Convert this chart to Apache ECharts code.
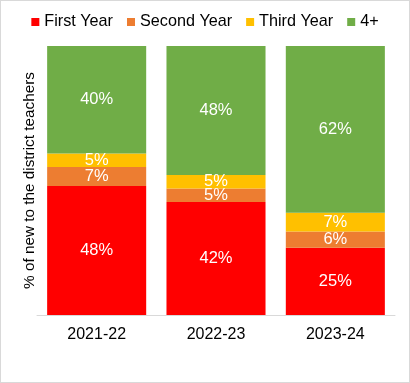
<!DOCTYPE html>
<html><head><meta charset="utf-8">
<script src="https://cdn.jsdelivr.net/npm/echarts@6/dist/echarts.min.js"></script>
<style>
html,body{margin:0;padding:0;background:#fff;}
#c{width:408px;height:381px;border:1px solid #d9d9d9;}
</style></head>
<body><div id="c"></div>
<script>
const categories = ['2021-22', '2022-23', '2023-24'];
const firstYear = [48, 42, 25];
const secondYear = [7, 5, 6];
const thirdYear = [5, 5, 7];
const fourPlus = [40, 48, 62];
const seriesNames = ['First Year', 'Second Year', 'Third Year', '4+'];
const colors = ['#ff0000', '#ed7d31', '#ffc000', '#70ad47'];

const chart = echarts.init(document.getElementById('c'));
const font = 'Liberation Sans, Arial, sans-serif';
function mk(name, data, color) {
  return {
    name: name, type: 'bar', stack: 'total', data: data,
    barCategoryGap: '17%',
    itemStyle: {color: color},
    label: {show: true, position: 'inside', color: '#fff', fontSize: 16.5, fontFamily: font,
      formatter: p => p.value + '%'}
  };
}
chart.setOption({
  animation: false,
  color: colors,
  legend: {
    top: 8, left: 'center', itemWidth: 8, itemHeight: 8, itemGap: 14,
    icon: 'rect',
    textStyle: {fontSize: 16.2, fontFamily: font, color: '#000'},
    data: seriesNames
  },
  grid: {left: 36, right: 14, top: 45, bottom: 67},
  xAxis: {
    type: 'category', data: categories,
    axisLine: {lineStyle: {color: '#d9d9d9'}},
    axisTick: {show: false},
    axisLabel: {fontSize: 16, fontFamily: font, color: '#000', margin: 12}
  },
  yAxis: {
    type: 'value', min: 0, max: 100,
    name: '% of new to the district teachers',
    nameLocation: 'middle', nameGap: 0,
    nameTextStyle: {fontSize: 15.3, fontFamily: font, color: '#000'},
    axisLabel: {show: false}, splitLine: {show: false},
    axisLine: {show: false}, axisTick: {show: false}
  },
  series: [
    mk(seriesNames[0], firstYear, colors[0]),
    mk(seriesNames[1], secondYear, colors[1]),
    mk(seriesNames[2], thirdYear, colors[2]),
    mk(seriesNames[3], fourPlus, colors[3])
  ]
});
</script></body></html>
